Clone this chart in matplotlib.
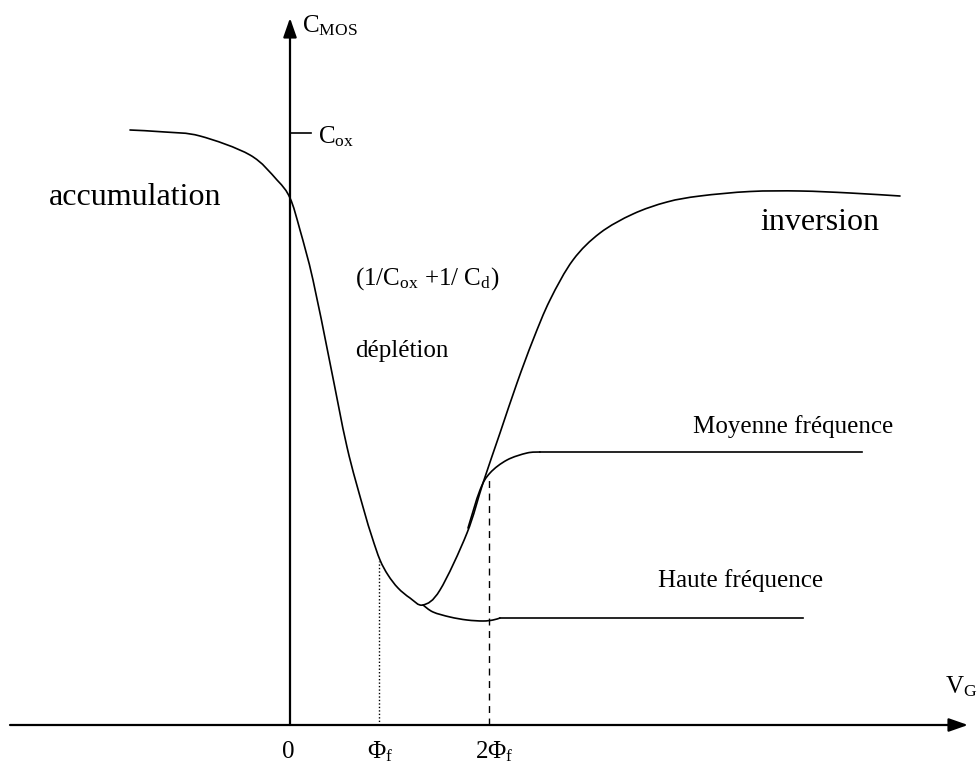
import matplotlib
matplotlib.use("Agg")
import matplotlib.pyplot as plt
from matplotlib.path import Path
from matplotlib.patches import PathPatch

plt.rcParams['font.family'] = ['Liberation Serif', 'DejaVu Serif']
plt.rcParams['mathtext.fontset'] = 'custom'
plt.rcParams['mathtext.rm'] = 'Liberation Serif'
plt.rcParams['mathtext.it'] = 'Liberation Serif:italic'

# Low-frequency C-V curve (accumulation -> depletion -> inversion), arbitrary units
vg_low = [-1.60, -1.25, -0.90, -0.40, -0.13, 0.00, 0.10, 0.23, 0.40, 0.57, 0.73,
          0.82, 0.90, 0.98, 1.08, 1.20, 1.33, 1.50, 1.77, 1.93, 2.10, 2.27, 2.43,
          2.60, 2.83, 3.10, 3.43, 3.77, 4.10, 4.60, 5.10, 5.60, 6.10]
c_low = [5.95, 5.93, 5.89, 5.70, 5.45, 5.27, 4.95, 4.45, 3.62, 2.78, 2.18,
         1.88, 1.65, 1.50, 1.37, 1.27, 1.20, 1.35, 1.92, 2.42, 2.92, 3.42, 3.85,
         4.25, 4.65, 4.92, 5.11, 5.23, 5.29, 5.335, 5.34, 5.32, 5.29]

# High-frequency branch
vg_high = [1.33, 1.43, 1.60, 1.77, 1.93, 2.03, 2.10, 5.13]
c_high = [1.20, 1.13, 1.08, 1.05, 1.04, 1.05, 1.07, 1.07]

# Medium-frequency branch
vg_mid = [1.78, 1.90, 2.00, 2.17, 2.37, 2.50, 5.72]
c_mid = [1.97, 2.35, 2.52, 2.65, 2.72, 2.73, 2.73]

c_ox = 5.92
phi_f = 0.89
two_phi_f = 1.99
c_phi_f = 1.64
c_two_phi_f = 2.50

tick_pos = [-0.02, 0.90, 2.04]
tick_labels = ['0', 'Φ$_\\mathrm{f}$', '2Φ$_\\mathrm{f}$']

fig = plt.figure(figsize=(9.79, 7.69), dpi=100)
ax = fig.add_axes([0, 0, 1, 1])
ax.set_xlim(-2.90, 6.89)
ax.set_ylim(-0.44, 7.25)
ax.axis('off')


def smooth_path(xs, ys):
    """Cubic Bezier path through the given points (Catmull-Rom tangents)."""
    pts = list(zip(xs, ys))
    verts = [pts[0]]
    codes = [Path.MOVETO]
    n = len(pts)
    for i in range(n - 1):
        p0 = pts[i - 1] if i > 0 else pts[i]
        p1 = pts[i]
        p2 = pts[i + 1]
        p3 = pts[i + 2] if i + 2 < n else pts[i + 1]
        c1 = (p1[0] + (p2[0] - p0[0]) / 6.0, p1[1] + (p2[1] - p0[1]) / 6.0)
        c2 = (p2[0] - (p3[0] - p1[0]) / 6.0, p2[1] - (p3[1] - p1[1]) / 6.0)
        verts += [c1, c2, p2]
        codes += [Path.CURVE4] * 3
    return Path(verts, codes)


lw_curve = 1.2
for xs, ys in [(vg_low, c_low), (vg_high[:-1], c_high[:-1]), (vg_mid[:-1], c_mid[:-1])]:
    ax.add_patch(PathPatch(smooth_path(xs, ys), fill=False, edgecolor='black',
                           lw=lw_curve, capstyle='round'))
ax.plot(vg_high[-2:], c_high[-2:], color='black', lw=lw_curve)
ax.plot(vg_mid[-2:], c_mid[-2:], color='black', lw=lw_curve)

# axes with arrows
arrow = dict(arrowstyle='-|>,head_length=0.4,head_width=0.14', mutation_scale=29,
             lw=1.6, color='black', shrinkA=0, shrinkB=0)
ax.annotate('', xy=(6.78, 0.0), xytext=(-2.80, 0.0), arrowprops=arrow)
ax.annotate('', xy=(0.0, 7.07), xytext=(0.0, 0.0), arrowprops=arrow)

# Cox tick
ax.plot([0.0, 0.21], [c_ox, c_ox], color='black', lw=1.2)

# guide lines
ax.plot([phi_f, phi_f], [0, c_phi_f], color='black', lw=1.0, ls=(0, (1, 1.5)))
ax.plot([two_phi_f, two_phi_f], [0, c_two_phi_f], color='black', lw=1.0, ls=(0, (5, 4)))

# tick labels
for p, lab in zip(tick_pos, tick_labels):
    ax.text(p, -0.33, lab, fontsize=18, ha='center', va='baseline')

big = 23
small = 18
ax.text(0.12, 6.93, 'C$_\\mathrm{MOS}$', fontsize=small, ha='left', va='baseline')
ax.text(0.28, 5.82, 'C$_\\mathrm{ox}$', fontsize=small, ha='left', va='baseline')
ax.text(-2.41, 5.20, 'accumulation', fontsize=big, ha='left', va='baseline')
ax.text(4.70, 4.95, 'inversion', fontsize=big, ha='left', va='baseline')
ax.text(0.65, 4.40, '(1/C$_\\mathrm{ox}$ +1/ C$_\\mathrm{d}$)', fontsize=small, ha='left', va='baseline')
ax.text(0.65, 3.68, 'déplétion', fontsize=small, ha='left', va='baseline')
ax.text(4.03, 2.92, 'Moyenne fréquence', fontsize=small, ha='left', va='baseline')
ax.text(3.68, 1.38, 'Haute fréquence', fontsize=small, ha='left', va='baseline')
ax.text(6.55, 0.32, 'V$_\\mathrm{G}$', fontsize=small, ha='left', va='baseline')

fig.savefig('out.png', dpi=100)
